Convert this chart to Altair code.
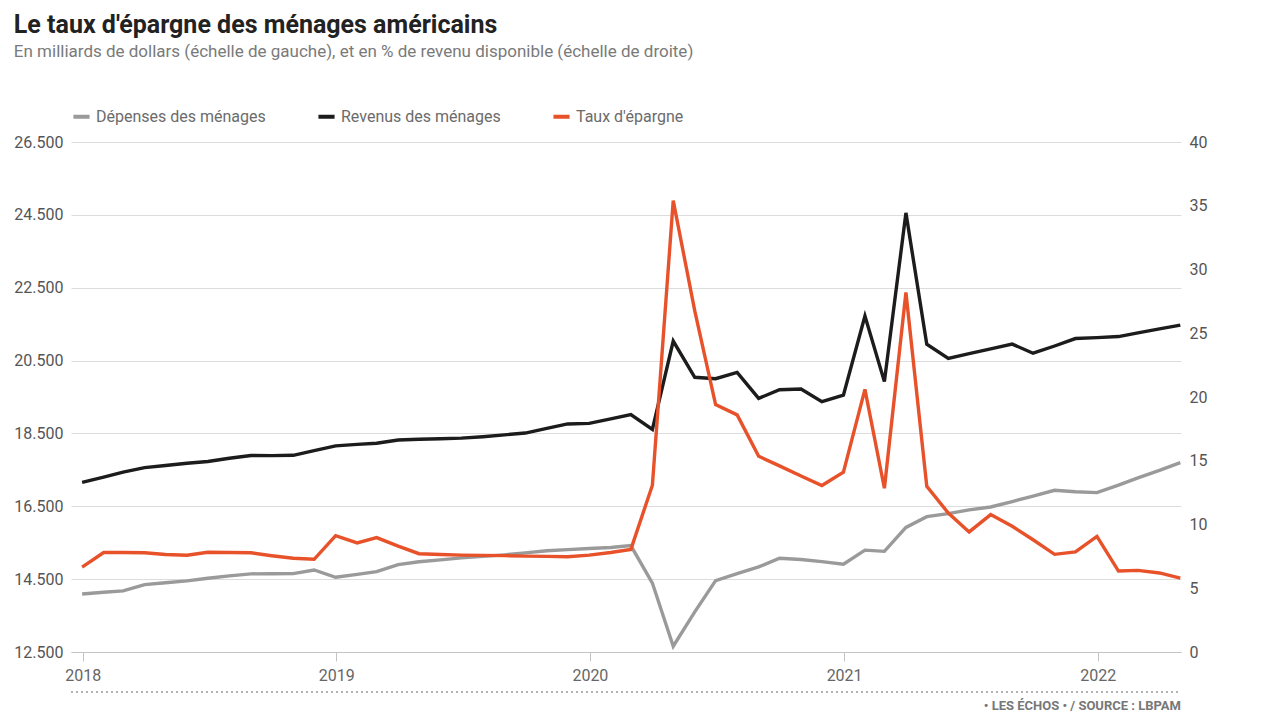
import altair as alt
import pandas as pd

# Monthly points (end of month), Dec 2017 -> Apr 2022
month_starts = pd.date_range("2018-01-01", periods=53, freq="MS")
dates = (month_starts - pd.Timedelta(days=1)).strftime("%Y-%m-%dT00:00:00").tolist()

# Revenus des ménages (milliards de dollars)
revenus = [17157, 17300, 17440, 17560, 17620, 17680, 17730, 17820, 17895, 17890,
           17900, 18030, 18158, 18200, 18230, 18320, 18340, 18355, 18370, 18410,
           18460, 18510, 18640, 18760, 18775, 18900, 19020, 18608, 21036, 20042,
           20003, 20175, 19462, 19700, 19718, 19371, 19548, 21725, 19922, 24554,
           20948, 20557, 20690, 20820, 20953, 20702, 20900, 21105, 21130, 21159,
           21260, 21370, 21474]

# Dépenses des ménages (milliards de dollars)
depenses = [14094, 14140, 14178, 14350, 14400, 14451, 14525, 14590, 14645, 14650,
            14652, 14751, 14552, 14630, 14705, 14900, 14977, 15030, 15083, 15125,
            15167, 15220, 15280, 15310, 15340, 15370, 15420, 14392, 12660, 13600,
            14458, 14650, 14835, 15073, 15040, 14980, 14911, 15297, 15263, 15919,
            16215, 16300, 16400, 16480, 16630, 16780, 16938, 16900, 16874, 17080,
            17280, 17486, 17700]

# Taux d'épargne (% du revenu)
taux = [6.66, 7.8, 7.8, 7.78, 7.65, 7.59, 7.82, 7.8, 7.78, 7.55,
        7.35, 7.27, 9.13, 8.56, 8.97, 8.3, 7.71, 7.65, 7.6, 7.58,
        7.56, 7.52, 7.5, 7.47, 7.6, 7.8, 8.05, 13.08, 35.4, 26.75,
        19.4, 18.6, 15.35, 14.6, 13.8, 13.06, 14.1, 20.6, 12.84, 28.2,
        13.0, 10.9, 9.42, 10.78, 9.86, 8.8, 7.66, 7.85, 9.07, 6.35,
        6.4, 6.2, 5.8]

series = ["Dépenses des ménages", "Revenus des ménages", "Taux d'épargne"]
colors = ["#9a9a9a", "#1c1c1c", "#e8522b"]
left_ticks = list(range(12500, 26501, 2000))
right_ticks = list(range(0, 41, 5))
years = [2018, 2019, 2020, 2021, 2022]

title_text = "Le taux d'épargne des ménages américains"
subtitle_text = "En milliards de dollars (échelle de gauche), et en % de revenu disponible (échelle de droite)"
footer_text = "• LES ÉCHOS • / SOURCE : LBPAM"

W, H = 1110, 510
FONT = "Roboto"

df_lr = pd.DataFrame({
    "date": dates * 2,
    "serie": [series[0]] * len(dates) + [series[1]] * len(dates),
    "valeur": depenses + revenus,
})
df_t = pd.DataFrame({"date": dates, "serie": [series[2]] * len(dates), "taux": taux})

color = alt.Color(
    "serie:N",
    scale=alt.Scale(domain=series, range=colors),
    legend=alt.Legend(
        orient="none", legendX=0, legendY=-36, direction="horizontal",
        title=None, symbolType="stroke", symbolStrokeWidth=4, symbolSize=260,
        labelFontSize=16, labelColor="#6b6b6b", labelFont=FONT, columnPadding=44,
        labelLimit=0,
    ),
)

x = alt.X(
    "date:T",
    scale=alt.Scale(domain=[alt.DateTime(year=2017, month=12, date=15),
                            alt.DateTime(year=2022, month=5, date=1)]),
    axis=alt.Axis(
        values=[alt.DateTime(year=y, month=1, date=1) for y in years],
        format="%Y", title=None, grid=False, domainColor="#c4c4c4",
        tickColor="#c4c4c4", tickSize=9, labelFontSize=16, labelColor="#666666",
        labelFont=FONT, labelPadding=6,
    ),
)

lines_lr = alt.Chart(df_lr).mark_line(strokeWidth=3.4, strokeJoin="miter").encode(
    x=x,
    y=alt.Y(
        "valeur:Q",
        scale=alt.Scale(domain=[12500, 26500], nice=False, zero=False),
        axis=alt.Axis(
            orient="left", values=left_ticks, title=None, domain=False, ticks=False,
            grid=True, gridColor="#dcdcdc", gridWidth=1,
            labelExpr="replace(format(datum.value, ','), ',', '.')",
            labelFontSize=16, labelColor="#555555", labelFont=FONT, labelPadding=8,
        ),
    ),
    color=color,
    detail="serie:N",
)

line_t = alt.Chart(df_t).mark_line(strokeWidth=3.4, strokeJoin="miter").encode(
    x=x,
    y=alt.Y(
        "taux:Q",
        scale=alt.Scale(domain=[0, 40], nice=False),
        axis=alt.Axis(
            orient="right", values=right_ticks, title=None, domain=False, ticks=False,
            grid=False, labelFontSize=16, labelColor="#555555", labelFont=FONT,
            labelPadding=8,
        ),
    ),
    color=color,
)

dotted = alt.Chart(pd.DataFrame({"a": [0]})).mark_rule(
    strokeDash=[2, 3], color="#9a9a9a", strokeWidth=1.5
).encode(x=alt.value(0), x2=alt.value(W), y=alt.value(H + 40))

footer = alt.Chart(pd.DataFrame({"t": [footer_text]})).mark_text(
    align="right", baseline="top", fontSize=13, color="#777777", font=FONT,
    fontWeight="bold"
).encode(x=alt.value(W), y=alt.value(H + 48), text="t:N")

chart = (
    alt.layer(lines_lr, line_t, dotted, footer)
    .resolve_scale(y="independent")
    .properties(
        width=W, height=H,
        title=alt.TitleParams(
            text=title_text, subtitle=subtitle_text, anchor="start",
            font=FONT, fontSize=25, fontWeight="bold", color="#222222",
            subtitleFont=FONT, subtitleFontSize=17, subtitleColor="#7a7a7a",
            subtitlePadding=6, offset=46,
        ),
        background="white",
    )
    .configure_view(stroke=None)
)

chart.save("out.html", embed_options={"renderer": "svg", "actions": False})
